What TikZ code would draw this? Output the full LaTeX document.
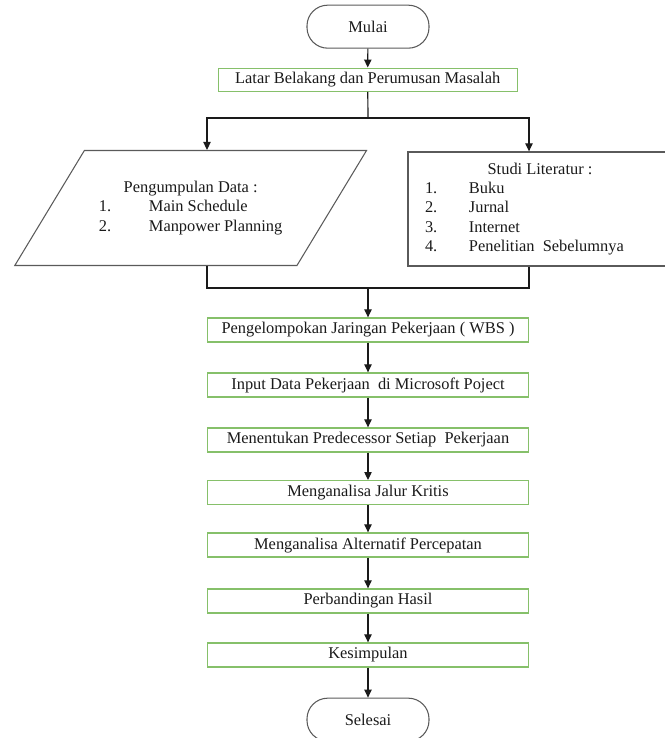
\documentclass[tikz,border=0pt]{standalone}
\usepackage{fontspec}
\setmainfont{Liberation Serif}
\usetikzlibrary{arrows.meta,shapes.geometric}
\definecolor{ink}{HTML}{1A1A1A}
\definecolor{frame}{HTML}{5A5A5A}
\definecolor{leaf}{HTML}{86C06A}

\begin{document}
\begin{tikzpicture}[
  font=\fontsize{14}{16.5}\selectfont,
  term/.style={rounded corners=0.62cm, draw=frame, line width=0.9pt, minimum width=3.66cm, minimum height=1.29cm, text=ink},
  gbox/.style={draw=leaf, line width=1.1pt, minimum width=9.63cm, minimum height=0.72cm, inner sep=0pt, text=ink},
  iobox/.style={trapezium, trapezium left angle=44, trapezium right angle=136, trapezium stretches=true, draw=frame, line width=0.9pt, minimum width=10.59cm, minimum height=3.45cm, inner sep=0pt, text=ink},
  lbox/.style={draw=frame, line width=1.1pt, minimum width=7.92cm, minimum height=3.42cm, inner sep=0pt, text=ink},
  arrow/.style={-{Triangle[length=2.4mm, width=2.2mm]}, line width=1pt, draw=ink},
  link/.style={line width=1pt, draw=ink},
]
\useasboundingbox (0,0) rectangle (19.95,-22.14);

\node[term] (mulai) at (11.04,-0.80) {Mulai};
\node[gbox, minimum width=8.97cm, minimum height=0.69cm] (latar) at (11.03,-2.39) {Latar Belakang dan Perumusan Masalah};

\node[iobox] (data) at (5.72,-6.24) {\begin{tabular}{@{}p{1.5cm}@{}l@{}}
\multicolumn{2}{c}{Pengumpulan Data :}\\
1. & Main Schedule\\
2. & Manpower Planning
\end{tabular}};
\node[lbox] (lit) at (16.20,-6.27) {\begin{tabular}{@{}p{1.32cm}@{}p{5.58cm}@{}}
\multicolumn{2}{@{}c@{}}{Studi Literatur :}\\
1. & Buku\\
2. & Jurnal\\
3. & Internet\\
4. & Penelitian \ Sebelumnya
\end{tabular}};

\node[gbox] (wbs) at (11.04,-9.90) {Pengelompokan Jaringan Pekerjaan ( WBS )};
\node[gbox] (input) at (11.04,-11.55) {Input Data Pekerjaan \ di Microsoft Poject};
\node[gbox] (pred) at (11.04,-13.20) {Menentukan Predecessor Setiap \ Pekerjaan};
\node[gbox] (kritis) at (11.04,-14.78) {Menganalisa Jalur Kritis};
\node[gbox] (alt) at (11.04,-16.35) {Menganalisa Alternatif Percepatan};
\node[gbox] (banding) at (11.04,-18.03) {Perbandingan Hasil};
\node[gbox] (simpul) at (11.04,-19.65) {Kesimpulan};
\node[term] (selesai) at (11.04,-21.59) {Selesai};

\coordinate (split) at (11.04,-3.54);
\coordinate (spl) at (6.21,-3.54);
\coordinate (spr) at (15.87,-3.54);
\coordinate (join) at (11.04,-8.64);
\coordinate (jl) at (6.21,-8.64);
\coordinate (jr) at (15.87,-8.64);

\draw[arrow] (mulai) -- (latar);
\draw[link] (latar) -- (split);
\draw[arrow] (split) -- (spl) -- (spl |- data.north);
\draw[arrow] (split) -- (spr) -- (spr |- lit.north);
\draw[link] (jl |- data.south) -- (jl) -- (jr) -- (jr |- lit.south);
\draw[arrow] (join) -- (wbs);
\draw[arrow] (wbs) -- (input);
\draw[arrow] (input) -- (pred);
\draw[arrow] (pred) -- (kritis);
\draw[arrow] (kritis) -- (alt);
\draw[arrow] (alt) -- (banding);
\draw[arrow] (banding) -- (simpul);
\draw[arrow] (simpul) -- (selesai);
\end{tikzpicture}
\end{document}
